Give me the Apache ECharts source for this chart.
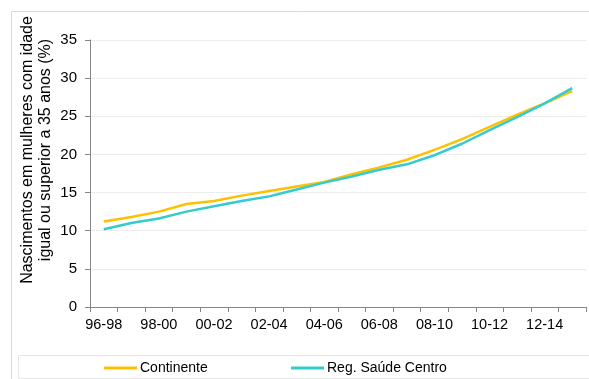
<!DOCTYPE html>
<html>
<head>
<meta charset="utf-8">
<script src="https://cdn.jsdelivr.net/npm/echarts@6/dist/echarts.min.js"></script>
<style>
  html, body { margin: 0; padding: 0; background: #ffffff; }
  #chart { width: 589px; height: 379px; }
</style>
</head>
<body>
<div id="chart"></div>
<script>
// Three-year periods
var periods = ['96-98', '97-99', '98-00', '99-01', '00-02', '01-03', '02-04', '03-05', '04-06',
               '05-07', '06-08', '07-09', '08-10', '09-11', '10-12', '11-13', '12-14', '13-15'];

// Share of births to mothers aged 35 or over (%)
var continente = [11.2, 11.8, 12.5, 13.5, 13.9, 14.6, 15.2, 15.8, 16.4, 17.4, 18.3, 19.3,
                  20.6, 22.0, 23.6, 25.2, 26.7, 28.3];
var regSaudeCentro = [10.2, 11.0, 11.6, 12.5, 13.2, 13.9, 14.5, 15.4, 16.3, 17.1, 18.0, 18.7,
                      19.9, 21.4, 23.2, 24.9, 26.7, 28.7];

var yTicks = [0, 5, 10, 15, 20, 25, 30, 35];

var font = 'Liberation Sans, Arial, sans-serif';
var chart = echarts.init(document.getElementById('chart'), null, { renderer: 'canvas' });

chart.setOption({
  animation: false,
  backgroundColor: '#ffffff',
  textStyle: { fontFamily: font },
  grid: { left: 90, right: 3, top: 40, bottom: 72, containLabel: false },
  graphic: [
    {
      type: 'rect', z: -1, silent: true,
      shape: { x: 11.5, y: 11.5, width: 600, height: 400 },
      style: { fill: 'none', stroke: '#d9d9d9', lineWidth: 1 }
    },
    {
      type: 'rect', z: -1, silent: true,
      shape: { x: 18.5, y: 355.5, width: 600, height: 23 },
      style: { fill: '#ffffff', stroke: '#e6e6e6', lineWidth: 1 }
    },
    {
      type: 'text', silent: true,
      x: 37, y: 150, rotation: Math.PI / 2,
      style: {
        text: 'Nascimentos em mulheres com idade\nigual ou superior a 35 anos (%)',
        font: '16px ' + font,
        fill: '#000000',
        align: 'center',
        verticalAlign: 'middle',
        lineHeight: 18
      }
    }
  ],
  legend: [
    {
      data: ['Continente'],
      left: 104, top: 361, padding: 0,
      icon: 'rect', itemWidth: 33, itemHeight: 3, itemGap: 0,
      textStyle: { fontFamily: font, fontSize: 14, color: '#000000', padding: [0, 0, 0, -2] }
    },
    {
      data: ['Reg. Saúde Centro'],
      left: 291, top: 361, padding: 0,
      icon: 'rect', itemWidth: 33, itemHeight: 3, itemGap: 0,
      textStyle: { fontFamily: font, fontSize: 14, color: '#000000', padding: [0, 0, 0, -2] }
    }
  ],
  xAxis: {
    type: 'category',
    data: periods,
    boundaryGap: true,
    axisLine: { lineStyle: { color: '#868686', width: 1 } },
    axisTick: { show: true, interval: 0, length: 5, lineStyle: { color: '#868686' } },
    axisLabel: {
      interval: 1, margin: 10, color: '#000000', fontSize: 14.5, fontFamily: font
    },
    splitLine: { show: false }
  },
  yAxis: {
    type: 'value',
    min: yTicks[0],
    max: yTicks[yTicks.length - 1],
    interval: 5,
    axisLine: { show: true, lineStyle: { color: '#868686', width: 1 } },
    axisTick: { show: true, length: 5, lineStyle: { color: '#868686' } },
    axisLabel: { margin: 13, color: '#000000', fontSize: 15, fontFamily: font },
    splitLine: { show: true, lineStyle: { color: '#ececec', width: 1 } }
  },
  series: [
    {
      name: 'Continente',
      type: 'line',
      data: continente,
      symbol: 'none',
      smooth: false,
      lineStyle: { color: '#FFC000', width: 2.5 },
      itemStyle: { color: '#FFC000' },
      z: 2
    },
    {
      name: 'Reg. Saúde Centro',
      type: 'line',
      data: regSaudeCentro,
      symbol: 'none',
      smooth: false,
      lineStyle: { color: '#33CCCC', width: 2.5 },
      itemStyle: { color: '#33CCCC' },
      z: 3
    }
  ]
});
</script>
</body>
</html>
